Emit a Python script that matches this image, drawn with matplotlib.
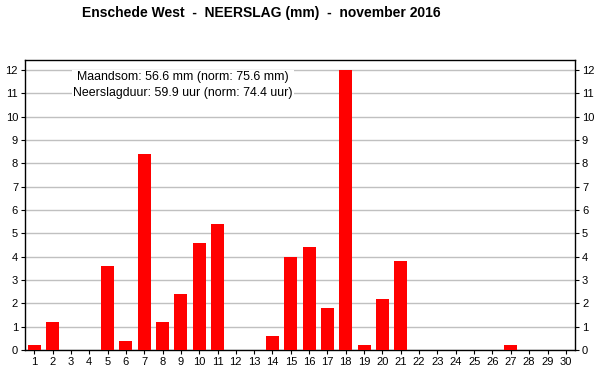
import matplotlib
matplotlib.use("Agg")
import matplotlib.pyplot as plt

days = list(range(1, 31))
rain = [0.2, 1.2, 0, 0, 3.6, 0.4, 8.4, 1.2, 2.4, 4.6, 5.4, 0, 0, 0.6, 4.0,
        4.4, 1.8, 12.0, 0.2, 2.2, 3.8, 0, 0, 0, 0, 0, 0.2, 0, 0, 0]
title = "Enschede West  -  NEERSLAG (mm)  -  november 2016"
info = "Maandsom: 56.6 mm (norm: 75.6 mm)\nNeerslagduur: 59.9 uur (norm: 74.4 uur)"

plt.rcParams['font.family'] = ['Liberation Sans', 'DejaVu Sans']
fig = plt.figure(figsize=(6, 3.9), dpi=100)
ax = fig.add_axes([25/600, 1-350/390, 550/600, 290/390])
ax.bar(days, rain, width=0.7, color='#ff0000', zorder=3)
ax.set_xlim(0.5, 30.5)
ax.set_ylim(0, 12.43)
ax.set_xticks(days)
ax.set_yticks(range(0, 13))
ax.yaxis.grid(True, color='#c0c0c0', linewidth=1, zorder=0)
ax.set_axisbelow(True)
ax.tick_params(axis='both', labelsize=8, length=3, direction='out', pad=2)
ax.tick_params(axis='y', right=True, labelright=True)
for s in ax.spines.values():
    s.set_linewidth(1)
fig.text(261/600, 1-13/390, title, ha='center', va='center', fontsize=10, fontweight='bold')
fig.text(183/600, 1-85/390, info, ha='center', va='center', fontsize=8.9,
         linespacing=1.35, bbox=dict(facecolor='white', edgecolor='none', pad=1), zorder=5)
fig.savefig("out.png", dpi=100)
